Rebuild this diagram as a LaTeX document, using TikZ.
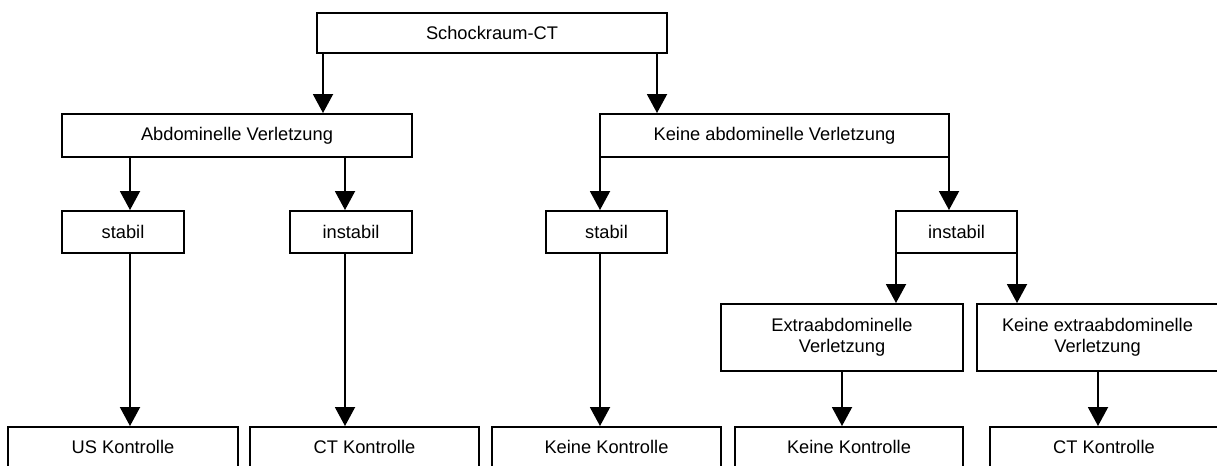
\documentclass[tikz,border=0pt]{standalone}
\usepackage{fontspec}
\setmainfont{Liberation Sans}
\usepackage{tikz}
\usetikzlibrary{arrows.meta}

\begin{document}
\begin{tikzpicture}[
    x=0.02cm,
    y=-0.02cm,
    font=\fontsize{10.4}{12}\selectfont,
    box/.style={
        draw,
        line width=1.1pt,
        align=center,
        inner sep=2pt,
        minimum height=0.84cm
    },
    arr/.style={
        -{Triangle[width=0.4cm,length=0.38cm]},
        line width=1.1pt
    }
]

\clip (0,0) rectangle (1217,466);

% Root
\node[box, minimum width=7cm, minimum height=0.8cm] (root) at (492,33) {Schockraum-CT};

% Injury level
\node[box, minimum width=7cm, minimum height=0.86cm] (abd) at (237,135.5) {Abdominelle Verletzung};
\node[box, minimum width=6.98cm, minimum height=0.86cm] (noabd) at (774.5,135.5) {Keine abdominelle Verletzung};

% Stability
\node[box, minimum width=2.44cm] (stab1) at (123,232) {stabil};
\node[box, minimum width=2.44cm] (inst1) at (351,232) {instabil};
\node[box, minimum width=2.42cm] (stab2) at (606.5,232) {stabil};
\node[box, minimum width=2.42cm] (inst2) at (956.5,232) {instabil};

% Extraabdominal
\node[box, minimum width=4.84cm, minimum height=1.34cm] (extra) at (842,337.5) {Extraabdominelle\\Verletzung};
\node[box, minimum width=4.82cm, minimum height=1.34cm] (noextra) at (1097.5,337.5) {Keine extraabdominelle\\Verletzung};

% Follow-up
\node[box, minimum width=4.6cm, minimum height=0.8cm] (us) at (123,447) {US Kontrolle};
\node[box, minimum width=4.58cm, minimum height=0.8cm] (ct1) at (364.5,447) {CT Kontrolle};
\node[box, minimum width=4.58cm, minimum height=0.8cm] (kk1) at (606.5,447) {Keine Kontrolle};
\node[box, minimum width=4.56cm, minimum height=0.8cm] (kk2) at (849,447) {Keine Kontrolle};
\node[box, minimum width=4.56cm, minimum height=0.8cm] (ct2) at (1104,447) {CT Kontrolle};

% Arrows
\foreach \a/\b/\x in {
    root/abd/323, root/noabd/657,
    abd/stab1/130, abd/inst1/345,
    noabd/stab2/600, noabd/inst2/949,
    stab1/us/130, inst1/ct1/345, stab2/kk1/600,
    inst2/extra/896, inst2/noextra/1017,
    extra/kk2/842, noextra/ct2/1098}
    \draw[arr] (\a.south -| \x,0) -- (\b.north -| \x,0);

\end{tikzpicture}
\end{document}
